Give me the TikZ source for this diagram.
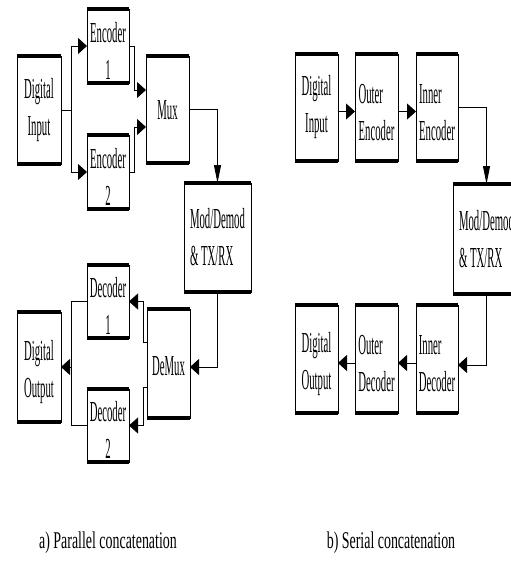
\documentclass[tikz,border=0pt]{standalone}
\usepackage{fontspec}
\setmainfont{Liberation Serif}
\newfontfamily\boxfont[FakeStretch=0.37]{Liberation Serif}
\newfontfamily\capfont[FakeStretch=0.58]{Liberation Serif}
\usetikzlibrary{arrows.meta}
\begin{document}
\begin{tikzpicture}[x=1pt,y=-1pt,
  blk/.style={draw, line width=0.9pt, inner sep=0pt, outer sep=0pt},
  txt/.style={inner sep=0pt, font=\boxfont\fontsize{29}{37}\selectfont, align=center},
  txtl/.style={txt, align=left},
  conn/.style={line width=0.8pt},
  harr/.style={conn, -{Triangle[length=9pt,width=16pt]}},
  varr/.style={conn, -{Triangle[length=18pt,width=7pt]}},
  captxt/.style={font=\capfont\fontsize{24}{28}\selectfont, inner sep=0pt, anchor=base}]
\useasboundingbox (0,0) rectangle (511,570);
\clip (0,0) rectangle (511,570);
\fill[white] (0,0) rectangle (511,570);

% ---- a) Parallel concatenation: boxes ----
\node[blk, minimum width=44pt, minimum height=108pt] (DI) at (39,110) {};
\node[blk, minimum width=42pt, minimum height=74pt] (Enc1) at (108,46) {};
\node[blk, minimum width=42pt, minimum height=74pt] (Enc2) at (108,172) {};
\node[blk, minimum width=43pt, minimum height=107pt] (Mux) at (167.5,109.5) {};
\node[blk, minimum width=67pt, minimum height=109pt] (ModL) at (217.5,237.5) {};
\node[blk, minimum width=43pt, minimum height=109pt] (DeMux) at (168.5,363.5) {};
\node[blk, minimum width=42pt, minimum height=73pt] (Dec1) at (108,301.5) {};
\node[blk, minimum width=42pt, minimum height=73pt] (Dec2) at (108,425.5) {};
\node[blk, minimum width=44pt, minimum height=110pt] (DO) at (39,367) {};

% texts
\node[txt] (DI-t) at (DI.center) {Digital\\Input};
\node[txt] (Enc1-t) at ([yshift=-4.5pt]Enc1.center) {Encoder\\1};
\node[txt] (Enc2-t) at ([yshift=-4.5pt]Enc2.center) {Encoder\\2};
\node[txt] (Mux-t) at ([yshift=-1pt]Mux.center) {Mux};
\node[txtl] (ModL-t) at (ModL.center) {Mod/Demod\\\& TX/RX};
\node[txt] (DeMux-t) at ([yshift=-3pt]DeMux.center) {DeMux};
\node[txt] (Dec1-t) at ([yshift=-4.5pt]Dec1.center) {Decoder\\1};
\node[txt] (Dec2-t) at ([yshift=-4.5pt]Dec2.center) {Decoder\\2};
\node[txt] (DO-t) at ([yshift=-5pt]DO.center) {Digital\\Output};

\coordinate (sL) at (71,110);
\coordinate (jL) at (71,367);
\draw[conn] (DI.east) -- (sL);
\draw[harr] (sL) |- (Enc1.west);
\draw[harr] (sL) |- (Enc2.west);
\draw[harr] (Enc1.east) -- ++(5,0) |- ([yshift=19.5pt]Mux.west);
\draw[harr] (Enc2.east) -- ++(5,0) |- ([yshift=-17.5pt]Mux.west);
\draw[varr] (Mux.east) -| (ModL.north);
\draw[harr] (ModL.south) |- ([yshift=-3.5pt]DeMux.east);
\draw[harr] ([yshift=21.5pt]DeMux.west) -- ++(-4,0) |- (Dec1.east);
\draw[harr] ([yshift=-23.5pt]DeMux.west) -- ++(-4,0) |- (Dec2.east);
\draw[conn] (Dec1.west) -| (jL);
\draw[conn] (Dec2.west) -| (jL);
\draw[harr] (jL) -- (DO.east);

% ---- b) Serial concatenation: boxes ----
\node[blk, minimum width=43pt, minimum height=107pt] (DI2) at (316.5,107.5) {};
\node[blk, minimum width=43pt, minimum height=107pt] (OE) at (376.5,107.5) {};
\node[blk, minimum width=42pt, minimum height=107pt] (IE) at (437,107.5) {};
\node[blk, minimum width=67pt, minimum height=110pt] (ModR) at (486.5,239) {};
\node[blk, minimum width=43pt, minimum height=108pt] (DO2) at (316.5,359) {};
\node[blk, minimum width=43pt, minimum height=108pt] (OD) at (376.5,359) {};
\node[blk, minimum width=42pt, minimum height=108pt] (ID) at (437,359) {};

% texts
\node[txt] (DI2-t) at (DI2.center) {Digital\\Input};
\node[txtl] (OE-t) at ([yshift=-5pt]OE.center) {Outer\\Encoder};
\node[txtl] (IE-t) at ([yshift=-5pt]IE.center) {Inner\\Encoder};
\node[txtl] (ModR-t) at (ModR.center) {Mod/Demod\\\& TX/RX};
\node[txt] (DO2-t) at ([yshift=-5pt]DO2.center) {Digital\\Output};
\node[txtl] (OD-t) at ([yshift=-5pt]OD.center) {Outer\\Decoder};
\node[txtl] (ID-t) at ([yshift=-5pt]ID.center) {Inner\\Decoder};

\draw[harr] ([yshift=-4pt]DI2.east) -- ([yshift=-4pt]OE.west);
\draw[harr] ([yshift=-4pt]OE.east) -- ([yshift=-4pt]IE.west);
\draw[varr] (IE.east) -| (ModR.north);
\draw[harr] (ModR.south) |- ([yshift=-6pt]ID.east);
\draw[harr] ([yshift=-4pt]ID.west) -- ([yshift=-4pt]OD.east);
\draw[harr] ([yshift=-4pt]OD.west) -- ([yshift=-4pt]DO2.east);

% thick top and bottom edges
\foreach \n in {DI,Enc1,Enc2,Mux,ModL,DeMux,Dec1,Dec2,DO,DI2,OE,IE,ModR,DO2,OD,ID}
  \draw[line width=3.5pt] (\n.north west) -- (\n.north east) (\n.south west) -- (\n.south east);

% captions
\node[captxt] (capA) at (108,548) {a) Parallel concatenation};
\node[captxt] (capB) at (391,548) {b) Serial concatenation};
\end{tikzpicture}
\end{document}
